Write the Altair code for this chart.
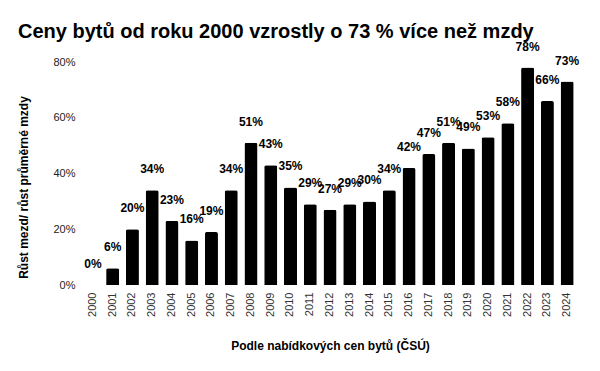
import altair as alt
import pandas as pd

years = [str(y) for y in range(2000, 2025)]
values = [0, 6, 20, 34, 23, 16, 19, 34, 51, 43, 35, 29, 27, 29, 30, 34, 42, 47, 51, 49, 53, 58, 78, 66, 73]

df = pd.DataFrame({"rok": years, "hodnota": [v / 100 for v in values],
                   "popis": [f"{v}%" for v in values]})

FONT = "Liberation Sans"

base = alt.Chart(df).encode(
    x=alt.X("rok:N", title="Podle nabídkových cen bytů (ČSÚ)", sort=years,
            scale=alt.Scale(paddingInner=0.34, paddingOuter=0.17),
            axis=alt.Axis(labelAngle=-90, labelFont=FONT, labelFontSize=11,
                          labelColor="#333333", domain=False, ticks=False, labelPadding=7,
                          titleFont=FONT, titleFontSize=12, titleFontWeight="bold",
                          titleColor="#000000", titlePadding=24)),
    y=alt.Y("hodnota:Q", title="Růst mezd/ růst průměrné mzdy",
            scale=alt.Scale(domain=[0, 0.8]),
            axis=alt.Axis(format=".0%", values=[0, 0.2, 0.4, 0.6, 0.8], grid=False,
                          domain=False, ticks=False, labelFont=FONT, labelFontSize=11,
                          labelColor="#222222", labelPadding=8,
                          titleFont=FONT, titleFontSize=12, titleFontWeight="bold",
                          titleColor="#000000", titlePadding=22, titleY=125)),
)

bars = base.mark_bar(color="#000000", cornerRadiusTopLeft=2, cornerRadiusTopRight=2)
labels = base.mark_text(baseline="bottom", dy=-14, font=FONT, fontSize=12,
                        fontWeight="bold", color="#000000").encode(text="popis:N")

chart = (bars + labels).properties(
    width=494, height=223,
    autosize=alt.AutoSizeParams(type="none"),
    padding={"left": 75, "top": 54, "right": 15, "bottom": 78},
    title=alt.TitleParams("Ceny bytů od roku 2000 vzrostly o 73 % více než mzdy",
                          anchor="start", font=FONT, fontSize=20, fontWeight="bold",
                          color="#000000", dx=0, offset=-1),
).configure_view(stroke=None)

chart.save("out.html", embed_options={"renderer": "svg", "actions": False})
